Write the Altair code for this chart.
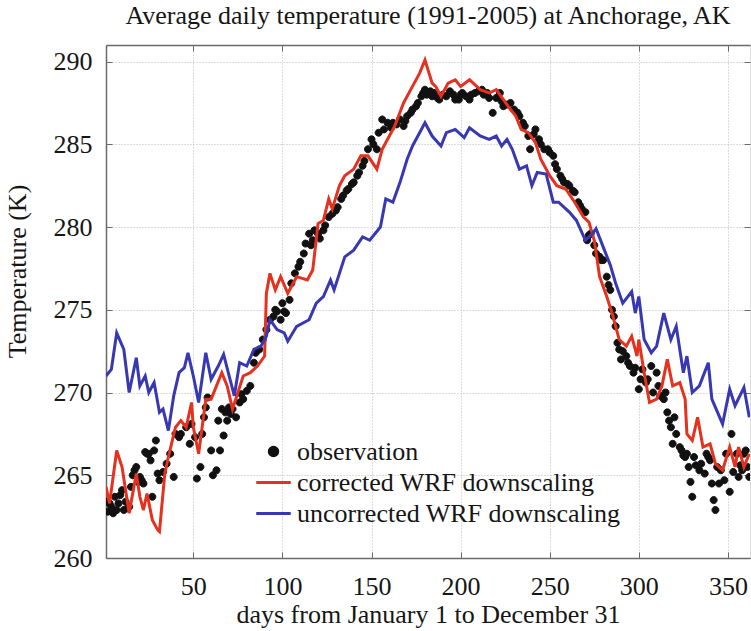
import altair as alt
import pandas as pd

# ---------------- data ----------------
series_names = ["observation", "corrected WRF downscaling", "uncorrected WRF downscaling"]

obs_days = [1, 2, 3, 4, 5, 6, 7, 8, 9, 10, 11, 12, 13, 14, 15, 16, 17, 18, 19, 20,
            21, 22, 23, 24, 25, 26, 27, 28, 29, 30, 31, 33, 35, 37, 39, 40, 42, 43, 46, 48,
            49, 51, 52, 54, 55, 56, 57, 58, 60, 61, 63, 64, 65, 66, 67, 68, 69, 70, 71, 72,
            74, 76, 77, 78, 80, 82, 84, 85, 87, 89, 91, 93, 95, 96, 97, 99, 100, 101, 102, 104,
            105, 107, 109, 110, 112, 113, 115, 116, 117, 118, 120, 121, 123, 124, 126, 128, 130, 131, 133, 134,
            136, 137, 139, 140, 142, 143, 145, 146, 148, 150, 151, 153, 154, 156, 157, 159, 161, 162, 164, 166,
            168, 169, 170, 172, 173, 175, 176, 178, 179, 180, 181, 183, 184, 185, 187, 188, 190, 192, 194, 196,
            197, 199, 200, 201, 203, 205, 206, 208, 210, 212, 213, 215, 216, 218, 220, 222, 223, 224, 226, 228,
            230, 232, 233, 235, 236, 238, 239, 241, 242, 244, 245, 247, 249, 250, 252, 253, 254, 256, 257, 258,
            260, 261, 263, 264, 266, 267, 268, 270, 271, 272, 273, 275, 276, 278, 279, 280, 282, 283, 284, 285,
            286, 287, 288, 289, 290, 291, 293, 294, 295, 297, 298, 300, 301, 302, 304, 305, 307, 308, 310, 311,
            312, 314, 315, 316, 317, 318, 319, 320, 321, 323, 324, 325, 326, 327, 328, 329, 330, 331, 332, 334,
            335, 337, 338, 339, 340, 341, 342, 343, 344, 345, 346, 348, 349, 351, 352, 353, 355, 356, 357, 358,
            359, 360, 361, 362]
obs_temp = [263.4, 262.8, 263.3, 263.1, 262.7, 263.7, 262.9, 263.3, 263.8, 264.1, 262.9, 263.4, 263.0, 263.1, 264.3, 265.0, 265.3, 265.5, 264.6, 264.9,
            264.7, 264.5, 266.4, 266.3, 266.3, 265.9, 263.7, 266.5, 267.1, 265.1, 264.7, 265.2, 265.7, 266.3, 264.9, 267.5, 267.3, 267.5, 267.9, 266.9,
            268.1, 267.3, 264.8, 265.5, 267.5, 268.5, 269.1, 269.7, 266.5, 265.0, 265.3, 268.3, 266.5, 269.0, 267.4, 268.8, 268.3, 269.1, 268.7, 269.0,
            268.5, 269.4, 269.9, 269.6, 270.1, 270.4, 271.8, 272.4, 272.6, 273.2, 273.8, 274.4, 274.6, 275.0, 274.9, 274.4, 275.4, 274.9, 274.8, 275.6,
            276.6, 277.2, 277.6, 277.9, 278.4, 279.0, 279.6, 278.9, 279.2, 279.8, 279.6, 279.3, 279.8, 280.1, 280.6, 280.8, 281.0, 281.2, 281.7, 281.9,
            282.2, 282.3, 282.6, 282.7, 283.1, 283.3, 283.7, 284.0, 284.7, 285.3, 285.0, 284.7, 285.7, 286.5, 285.9, 286.3, 286.0, 286.3, 286.2, 286.5,
            286.1, 286.4, 286.7, 286.9, 287.1, 287.3, 287.5, 287.9, 288.1, 288.3, 288.0, 288.2, 287.9, 288.1, 287.8, 287.7, 288.0, 287.9, 288.2, 288.0,
            287.7, 287.7, 288.0, 288.1, 287.9, 287.7, 288.0, 288.1, 288.2, 288.3, 288.0, 288.1, 287.8, 286.9, 287.8, 288.1, 287.6, 287.3, 287.4, 287.5,
            287.1, 286.9, 286.7, 286.3, 286.1, 285.5, 284.7, 285.6, 285.9, 285.3, 285.0, 284.7, 284.7, 284.5, 284.3, 283.8, 283.5, 283.1, 282.9, 282.7,
            282.6, 282.5, 282.2, 282.1, 281.5, 281.3, 281.1, 280.9, 279.2, 279.5, 279.6, 278.9, 278.4, 278.2, 278.0, 278.0, 277.0, 276.5, 276.2, 275.0,
            274.6, 274.0, 273.0, 272.6, 272.0, 272.5, 272.2, 271.8, 271.6, 271.2, 271.5, 270.2, 270.8, 271.4, 270.6, 270.8, 271.6, 270.0, 271.2, 270.4,
            269.8, 269.6, 270.0, 268.8, 268.3, 267.9, 266.9, 268.5, 267.5, 266.7, 266.5, 266.2, 266.1, 266.3, 265.5, 264.6, 263.7, 266.1, 265.6, 265.3,
            265.7, 265.1, 266.3, 266.1, 265.9, 264.5, 263.5, 262.9, 265.5, 264.5, 265.3, 264.7, 266.3, 264.0, 267.5, 265.2, 266.3, 264.9, 265.6, 265.3,
            266.3, 266.5, 265.5, 264.9]

cor_days = [1, 3, 7, 10, 14, 18, 20, 22, 24, 27, 30, 31, 34, 36, 40, 43, 46, 49, 50, 53,
            57, 60, 63, 66, 69, 72, 75, 78, 82, 86, 90, 91, 93, 96, 99, 103, 108, 114, 117, 120,
            123, 126, 128, 132, 135, 140, 144, 148, 153, 156, 159, 163, 168, 170, 173, 177, 180, 184, 186, 189,
            193, 197, 200, 205, 211, 216, 220, 224, 228, 231, 234, 238, 242, 245, 250, 254, 259, 264, 269, 272,
            275, 278, 282, 285, 289, 293, 296, 299, 300, 303, 306, 310, 313, 316, 319, 323, 326, 327, 330, 333,
            336, 340, 343, 347, 351, 354, 356, 359, 362]
cor_temp = [264.3, 263.3, 266.5, 265.5, 262.7, 265.1, 263.7, 262.9, 263.9, 262.3, 261.7, 261.6, 265.1, 266.1, 267.9, 268.3, 267.9, 269.4, 267.9, 266.3,
            269.6, 269.6, 270.4, 271.2, 270.4, 269.0, 270.0, 271.0, 271.2, 271.6, 272.2, 276.0, 277.2, 276.2, 277.0, 276.0, 277.0, 276.8, 277.4, 280.2,
            280.4, 281.7, 281.1, 282.5, 283.1, 283.5, 284.3, 284.3, 283.5, 284.7, 285.3, 286.1, 287.5, 287.9, 288.5, 289.3, 290.1, 288.7, 288.5, 287.9,
            288.7, 288.9, 288.5, 288.9, 288.3, 288.1, 288.3, 287.7, 287.1, 286.7, 285.9, 285.7, 285.1, 284.1, 283.1, 282.5, 282.3, 281.5, 280.6, 280.3,
            279.2, 277.0, 275.8, 274.8, 273.2, 272.8, 273.4, 272.2, 273.2, 271.2, 269.4, 269.6, 270.4, 272.0, 270.4, 270.6, 269.6, 267.5, 267.1, 268.5,
            266.7, 266.9, 265.7, 265.3, 266.7, 265.5, 266.7, 265.5, 266.3]

unc_days = [1, 4, 7, 11, 14, 18, 20, 23, 25, 28, 31, 33, 36, 39, 42, 45, 47, 50, 53, 57,
            60, 64, 67, 73, 76, 80, 84, 88, 91, 93, 97, 101, 103, 108, 115, 119, 123, 127, 129, 135,
            140, 145, 149, 155, 158, 162, 166, 170, 173, 177, 180, 184, 189, 192, 197, 202, 205, 211, 216, 220,
            223, 226, 229, 233, 237, 240, 243, 248, 252, 255, 261, 265, 270, 274, 276, 280, 284, 287, 291, 296,
            298, 300, 303, 307, 310, 314, 318, 321, 325, 327, 330, 334, 339, 341, 347, 351, 354, 359, 362]
unc_temp = [271.0, 271.4, 273.6, 272.6, 270.0, 272.1, 270.4, 271.0, 270.0, 270.6, 268.8, 269.0, 267.7, 269.8, 271.2, 271.5, 272.4, 271.0, 269.4, 272.4,
            270.8, 271.6, 272.3, 269.8, 271.8, 271.6, 272.6, 272.8, 273.4, 274.4, 273.8, 273.6, 273.1, 274.0, 274.4, 275.4, 275.8, 276.8, 276.2, 278.2,
            278.6, 279.4, 279.2, 280.0, 281.7, 281.5, 282.7, 284.1, 284.9, 285.7, 286.3, 285.5, 284.9, 285.7, 285.9, 285.4, 286.0, 285.5, 285.3, 285.5,
            284.9, 285.3, 284.7, 283.5, 283.7, 282.5, 283.3, 283.2, 281.5, 281.5, 280.9, 280.4, 279.2, 279.6, 279.9, 278.8, 277.7, 276.6, 275.4, 276.1,
            274.8, 275.8, 273.2, 272.4, 272.8, 274.8, 273.2, 274.0, 271.2, 272.2, 270.0, 270.4, 271.8, 269.6, 268.1, 270.2, 269.2, 270.3, 268.5]

x_ticks = [50, 100, 150, 200, 250, 300, 350]
y_ticks = [260, 265, 270, 275, 280, 285, 290]

# ---------------- styling ----------------
W, H = 644, 513
FONT = "Liberation Serif"
TXT = "#161616"
RED = "#e5321f"
BLUE = "#3838b2"
FRAME = "#6a6a6a"
CIRCLE = "M -0.28 0 A 0.28 0.28 0 1 0 0.28 0 A 0.28 0.28 0 1 0 -0.28 0 Z"
LINE = "M -1.15 0 L 1.15 0"

xs = alt.Scale(domain=[1, 362.4], nice=False, zero=False)
ys = alt.Scale(domain=[260, 291], nice=False, zero=False)

obs_df = pd.DataFrame({"day": obs_days, "temp": obs_temp, "series": series_names[0]})
cor_df = pd.DataFrame({"day": cor_days, "temp": cor_temp})
unc_df = pd.DataFrame({"day": unc_days, "temp": unc_temp})

legend = alt.Legend(
    title=None, orient="none", legendX=151, legendY=390,
    labelFont=FONT, labelFontSize=26, labelColor=TXT, labelOffset=7,
    symbolSize=900, symbolStrokeWidth=3, symbolOpacity=1,
    padding=0, rowPadding=1, labelLimit=500,
)

main_x = alt.Axis(
    values=x_ticks, grid=True, gridDash=[1, 2], gridColor="#b8b8b8", gridWidth=1,
    ticks=False, tickSize=0, domain=True, domainColor=FRAME, domainWidth=1.5,
    labelFont=FONT, labelFontSize=26, labelColor=TXT, labelPadding=15,
    title="days from January 1 to December 31", titleFont=FONT, titleFontSize=26,
    titleFontWeight="normal", titleColor=TXT, titleY=64, titleBaseline="alphabetic",
)
main_y = alt.Axis(
    values=y_ticks, grid=True, gridDash=[1, 2], gridColor="#b8b8b8", gridWidth=1,
    ticks=False, tickSize=0, domain=True, domainColor=FRAME, domainWidth=1.5,
    labelFont=FONT, labelFontSize=26, labelColor=TXT, labelPadding=14,
    title="Temperature (K)", titleFont=FONT, titleFontSize=26, titleFontWeight="normal",
    titleColor=TXT, titleX=-81, titleY=226, titleAngle=270, titleBaseline="alphabetic",
)


def tick_axis(orient, values, domain):
    return alt.Axis(orient=orient, offset=-(H if orient in ("top", "bottom") else W),
                    values=values, labels=False, grid=False, title=None,
                    ticks=True, tickSize=6, tickColor=FRAME, tickWidth=1,
                    domain=domain, domainColor=FRAME, domainWidth=1.5)


points = alt.Chart(obs_df).mark_point(
    filled=True, opacity=1, size=625, strokeWidth=1, clip=True
).encode(
    x=alt.X("day:Q", scale=xs, axis=main_x),
    y=alt.Y("temp:Q", scale=ys, axis=main_y),
    fill=alt.Fill("series:N", scale=alt.Scale(domain=series_names, range=["#111111", RED, BLUE]), legend=legend),
    stroke=alt.Stroke("series:N", scale=alt.Scale(domain=series_names, range=["#111111", RED, BLUE]), legend=legend),
    shape=alt.Shape("series:N", scale=alt.Scale(domain=series_names, range=[CIRCLE, LINE, LINE]), legend=legend),
)

red_line = alt.Chart(cor_df).mark_line(strokeWidth=3, clip=True).encode(
    x=alt.X("day:Q", scale=xs, axis=tick_axis("top", x_ticks, False)),
    y=alt.Y("temp:Q", scale=ys, axis=tick_axis("right", y_ticks, False)),
    color=alt.value(RED),
)

blue_line = alt.Chart(unc_df).mark_line(strokeWidth=3, clip=True).encode(
    x=alt.X("day:Q", scale=xs, axis=tick_axis("bottom", x_ticks, True)),
    y=alt.Y("temp:Q", scale=ys, axis=tick_axis("left", y_ticks, False)),
    color=alt.value(BLUE),
)

chart = alt.layer(points, red_line, blue_line).resolve_axis(
    x="independent", y="independent"
).properties(
    width=W, height=H,
    title=alt.TitleParams(
        "Average daily temperature (1991-2005) at Anchorage, AK",
        font=FONT, fontSize=26, fontWeight="normal", color=TXT,
        anchor="middle", offset=20, baseline="alphabetic", dy=25,
    ),
    autosize=alt.AutoSizeParams(type="none"),
    padding={"left": 106, "top": 45, "right": 1, "bottom": 73},
).configure_view(stroke=None).configure(background="white")

chart.save("out.html", embed_options={"renderer": "svg", "actions": False})
